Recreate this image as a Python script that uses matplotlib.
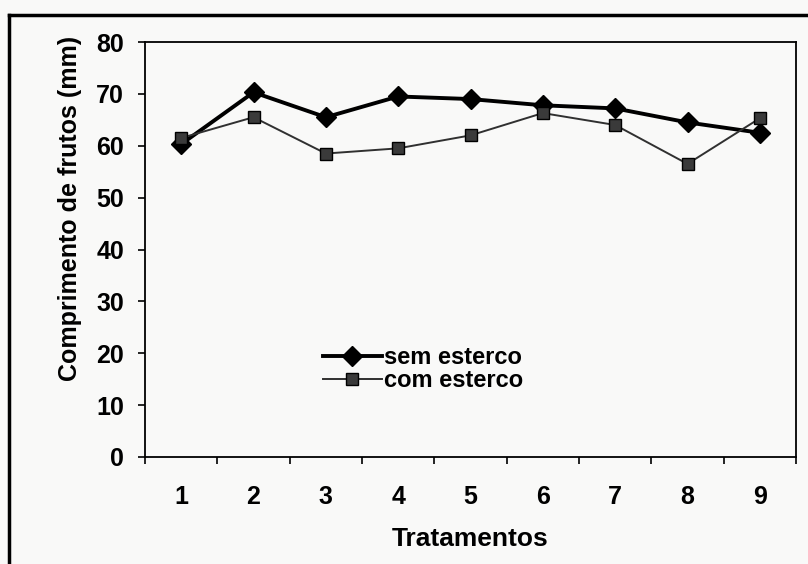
import matplotlib
matplotlib.use("Agg")
import matplotlib.pyplot as plt
from matplotlib.lines import Line2D
import numpy as np

plt.rcParams['font.family'] = ['Liberation Sans', 'DejaVu Sans']

categories = ['1', '2', '3', '4', '5', '6', '7', '8', '9']
sem_esterco = [60.3, 70.3, 65.5, 69.5, 69.0, 67.8, 67.2, 64.5, 62.5]
com_esterco = [61.5, 65.5, 58.5, 59.5, 62.0, 66.3, 64.0, 56.5, 65.3]
yticks = [0, 10, 20, 30, 40, 50, 60, 70, 80]

fig = plt.figure(figsize=(8.08, 5.64), dpi=100)
fig.patch.set_facecolor('#f9f9f8')
W, H = 808, 564
ax = fig.add_axes([145 / W, 1 - 457 / H, (796 - 145) / W, (457 - 42) / H])
ax.set_facecolor('#f9f9f8')

x = np.arange(1, len(categories) + 1)
ax.plot(x, sem_esterco, color='black', lw=2.8, marker='D', markersize=10.5,
        markerfacecolor='black', markeredgecolor='black', label='sem esterco')
ax.plot(x, com_esterco, color='#303030', lw=1.4, marker='s', markersize=9,
        markerfacecolor='#3a3a3a', markeredgecolor='black', label='com esterco')

ax.set_xlim(0.5, len(categories) + 0.5)
ax.set_ylim(0, 80)
ax.set_yticks(yticks)
ax.set_yticklabels([str(v) for v in yticks])
ax.set_xticks(x)
ax.set_xticklabels(categories)
ax.set_xticks(np.arange(0.5, len(categories) + 1, 1), minor=True)
ax.tick_params(axis='x', which='major', length=0, pad=20, labelsize=18)
ax.tick_params(axis='x', which='minor', length=5, width=1.2, direction='out')
ax.tick_params(axis='y', length=5, width=1.2, direction='out', pad=10, labelsize=18)
for lab in ax.get_xticklabels() + ax.get_yticklabels():
    lab.set_fontweight('bold')
for s in ax.spines.values():
    s.set_linewidth(1.3)
    s.set_color('black')

ax.set_xlabel('Tratamentos', fontsize=19, fontweight='bold', labelpad=13)
ax.set_ylabel('Comprimento de frutos (mm)', fontsize=18, fontweight='bold')
ax.yaxis.set_label_coords(-0.097, 0.60)

leg = ax.legend(loc='upper left', bbox_to_anchor=(0.255, 0.295), frameon=False,
                fontsize=17, handlelength=2.5, handletextpad=0.1,
                labelspacing=0.0, borderpad=0)
for t in leg.get_texts():
    t.set_fontweight('bold')

# outer chart frame
fig.add_artist(Line2D([9 / W, 1.0], [1 - 15 / H, 1 - 15 / H], color='black', lw=2.5,
                      transform=fig.transFigure))
fig.add_artist(Line2D([9 / W, 9 / W], [0, 1 - 15 / H], color='black', lw=2.5,
                      transform=fig.transFigure))

fig.savefig('out.png', dpi=100, facecolor=fig.get_facecolor())
